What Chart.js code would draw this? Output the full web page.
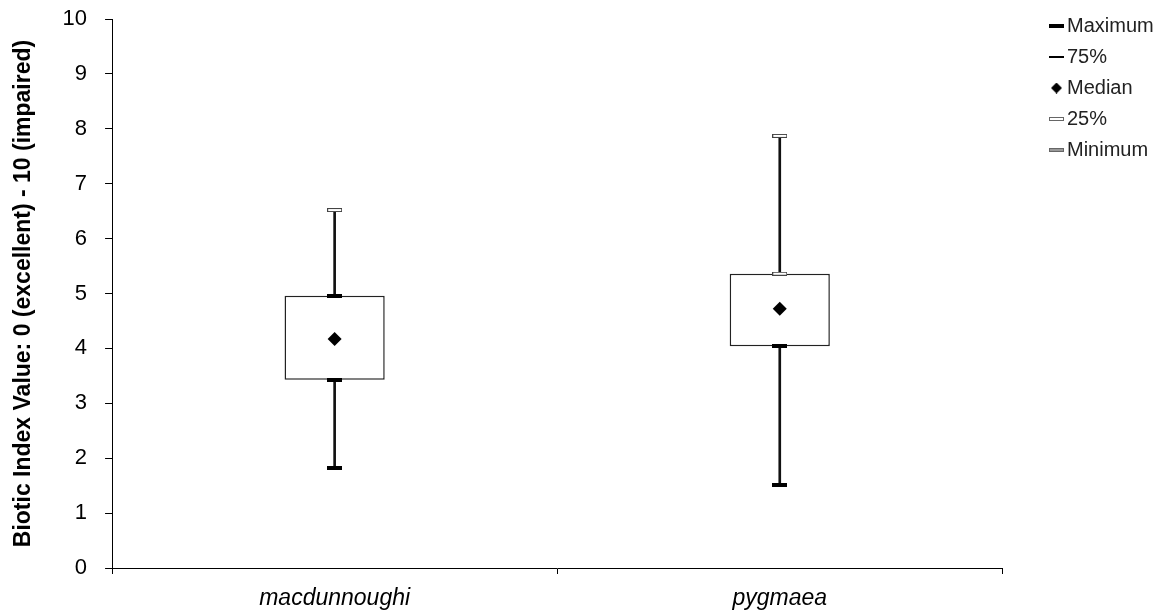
<!DOCTYPE html>
<html>
<head>
<meta charset="utf-8">
<script src="https://cdn.jsdelivr.net/npm/chart.js@4.4.0/dist/chart.umd.min.js"></script>
<style>
  body { margin: 0; background: #fff; }
  #wrap { width: 1169px; height: 614px; }
</style>
</head>
<body>
<div id="wrap"><canvas id="boxChart" width="1169" height="614"></canvas></div>
<script>
const species = ['macdunnoughi', 'pygmaea'];
const minimum = [1.82, 1.52];
const q1 = [3.43, 4.04];
const median = [4.17, 4.72];
const q3 = [4.96, 5.36];
const maximum = [6.52, 7.87];
const yTicks = [0, 1, 2, 3, 4, 5, 6, 7, 8, 9, 10];

// little cap marks, drawn as images (shift > 0 pushes the mark right, for the legend)
function cap(fill, stroke, h, shift) {
    const c = document.createElement('canvas');
    c.width = 15 + 2 * shift; c.height = h;
    const g = c.getContext('2d');
    const x0 = 2 * shift;
    g.fillStyle = stroke;
    g.fillRect(x0, 0, 15, h);
    if (fill !== stroke) {
        g.fillStyle = fill;
        g.fillRect(x0 + 1, 1, 13, h - 2);
    }
    return c;
}
function diamond(size, shift) {
    const c = document.createElement('canvas');
    c.width = size + 2 * shift; c.height = size;
    const g = c.getContext('2d');
    const cx = 2 * shift + size / 2, r = size / 2;
    g.fillStyle = '#000';
    g.beginPath();
    g.moveTo(cx - r, r); g.lineTo(cx, 0); g.lineTo(cx + r, r); g.lineTo(cx, size);
    g.closePath();
    g.fill();
    return c;
}
const capBlack = cap('#000', '#000', 4, 0);
const capHollow = cap('#fff', '#444', 4, 0);

const legendMarks = {
    'Maximum': cap('#000', '#000', 4, 7),
    '75%': cap('#000', '#000', 2, 7),
    'Median': diamond(11, 7),
    '25%': cap('#fff', '#666', 4, 7),
    'Minimum': cap('#999', '#666', 4, 7)
};

const markDataset = (label, data, style) => ({
    type: 'line',
    label: label,
    data: data,
    showLine: false,
    pointStyle: style,
    pointRadius: 7,
    pointBackgroundColor: '#000',
    pointBorderColor: '#000',
    pointBorderWidth: 0,
    order: 1
});

const data = {
    labels: species,
    datasets: [
        markDataset('Maximum', maximum, [capHollow, capHollow]),
        markDataset('75%', q3, [capBlack, capHollow]),
        markDataset('Median', median, 'rectRot'),
        markDataset('25%', q1, [capBlack, capBlack]),
        markDataset('Minimum', minimum, [capBlack, capBlack]),
        {
            type: 'bar',
            label: 'box',
            data: species.map((s, i) => [q1[i], q3[i]]),
            backgroundColor: '#fff',
            borderColor: '#222',
            borderWidth: 1.5,
            borderSkipped: false,
            grouped: false,
            categoryPercentage: 1,
            barPercentage: 0.225,
            order: 5
        },
        {
            type: 'bar',
            label: 'whisker',
            data: species.map((s, i) => [minimum[i], maximum[i]]),
            backgroundColor: '#111',
            barThickness: 2,
            grouped: false,
            order: 10
        }
    ]
};

// move the legend up and right, leaving a gap after the plot like the original
const legendShift = {
    id: 'legendShift',
    afterLayout(chart) {
        const l = chart.legend;
        const dx = 1031 - l.left;
        const dy = 5 - l.top;
        l.left += dx; l.right += dx;
        l.top += dy; l.bottom += dy;
    }
};

const chart = new Chart(document.getElementById('boxChart'), {
    data: data,
    plugins: [legendShift],
    options: {
        responsive: false,
        animation: false,
        layout: { padding: { top: 19, right: 34, bottom: 0, left: 0 } },
        plugins: {
            tooltip: { enabled: false },
            legend: {
                position: 'right',
                align: 'start',
                labels: {
                    usePointStyle: true,
                    boxWidth: 15,
                    padding: 11,
                    color: '#222',
                    font: { family: 'Liberation Sans', size: 20 },
                    filter: (item) => item.text !== 'box' && item.text !== 'whisker',
                    generateLabels: (c) => Chart.defaults.plugins.legend.labels.generateLabels(c)
                        .map(item => Object.assign(item, { pointStyle: legendMarks[item.text] }))
                }
            }
        },
        scales: {
            x: {
                type: 'category',
                offset: true,
                afterFit: (axis) => { axis.height = 46; },
                grid: { offset: true, drawOnChartArea: false, drawTicks: true, tickLength: 6, color: '#000' },
                border: { color: '#000', width: 1 },
                ticks: {
                    color: '#000',
                    padding: 11,
                    maxRotation: 0,
                    font: { family: 'Liberation Sans', size: 23, style: 'italic' }
                }
            },
            y: {
                min: 0,
                max: 10,
                afterBuildTicks: (axis) => { axis.ticks = yTicks.map(v => ({ value: v })); },
                afterFit: (axis) => { axis.paddingTop = 0; },
                grid: { drawOnChartArea: false, drawTicks: true, tickLength: 7, color: '#000' },
                border: { color: '#000', width: 1 },
                ticks: {
                    color: '#000',
                    padding: 18,
                    font: { family: 'Liberation Sans', size: 22 }
                },
                title: {
                    display: true,
                    text: 'Biotic Index Value: 0 (excellent) - 10 (impaired)',
                    color: '#000',
                    padding: { top: 10, bottom: 7 },
                    font: { family: 'Liberation Sans', size: 23, weight: 'bold' }
                }
            }
        }
    }
});
</script>
</body>
</html>
